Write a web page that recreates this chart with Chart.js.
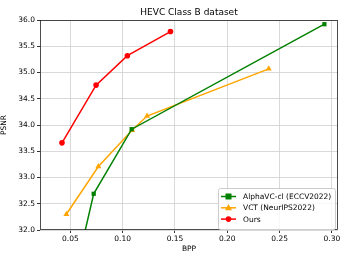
<!DOCTYPE html>
<html><head><meta charset="utf-8">
<script src="https://cdn.jsdelivr.net/npm/chart.js@4/dist/chart.umd.min.js"></script>
<style>html,body{margin:0;padding:0;background:#fff}#wrap{width:349px;height:262px}</style>
</head><body><div id="wrap"><canvas id="c" width="349" height="262"></canvas></div>
<script>
const titleText = "HEVC Class B dataset";
const xTicks = [0.05, 0.10, 0.15, 0.20, 0.25, 0.30];
const yTicks = [32.0, 32.5, 33.0, 33.5, 34.0, 34.5, 35.0, 35.5, 36.0];
const alphaBpp = [0.0585, 0.0723, 0.1086, 0.2928];
const alphaPsnr = [31.5, 32.69, 33.92, 35.92];
const vctBpp = [0.0462, 0.0768, 0.1090, 0.1233, 0.2396];
const vctPsnr = [32.30, 33.21, 33.90, 34.17, 35.07];
const oursBpp = [0.0420, 0.0746, 0.1045, 0.1457];
const oursPsnr = [33.66, 34.76, 35.32, 35.78];
const seriesNames = ["AlphaVC-cl (ECCV2022)", "VCT (NeurIPS2022)", "Ours"];

const FONT = "'DejaVu Sans', sans-serif";
const pts = (xs, ys) => xs.map((x, i) => ({x: x, y: ys[i]}));

const frameAndLegend = {
  id: 'frameAndLegend',
  afterDraw(chart) {
    const ctx = chart.ctx, a = chart.chartArea;
    ctx.save();
    ctx.strokeStyle = '#222'; ctx.lineWidth = 0.8;
    ctx.strokeRect(a.left + 0.5, a.top + 0.5, a.right - a.left - 1, a.bottom - a.top - 1);
    // title
    ctx.fillStyle = '#000'; ctx.font = '9px ' + FONT;
    ctx.textAlign = 'center'; ctx.textBaseline = 'middle';
    ctx.fillText(titleText, (a.left + a.right) / 2, 12.5);
    // legend
    const bx = 218, by = 188, bw = 117, bh = 41;
    ctx.fillStyle = 'rgba(255,255,255,0.8)';
    ctx.strokeStyle = '#cccccc'; ctx.lineWidth = 1;
    ctx.beginPath(); ctx.roundRect(bx + 0.5, by + 0.5, bw, bh, 2); ctx.fill(); ctx.stroke();
    chart.data.datasets.forEach((ds, i) => {
      const y = 196.5 + i * 11.3;
      ctx.strokeStyle = ds.borderColor; ctx.lineWidth = 1.5;
      ctx.beginPath(); ctx.moveTo(221, y); ctx.lineTo(236, y); ctx.stroke();
      ctx.fillStyle = ds.borderColor;
      const r = ds.pointRadius;
      ctx.beginPath();
      if (ds.pointStyle === 'rect') { ctx.rect(228.5 - r, y - r, 2 * r, 2 * r); }
      else if (ds.pointStyle === 'triangle') { ctx.moveTo(228.5, y - r * 1.1); ctx.lineTo(228.5 + r, y + r * 0.7); ctx.lineTo(228.5 - r, y + r * 0.7); ctx.closePath(); }
      else { ctx.arc(228.5, y, r, 0, Math.PI * 2); }
      ctx.fill();
      ctx.fillStyle = '#000'; ctx.font = '7.5px ' + FONT;
      ctx.textAlign = 'left'; ctx.textBaseline = 'middle';
      ctx.fillText(ds.label, 243, y + 0.5);
    });
    ctx.restore();
  }
};

new Chart(document.getElementById('c'), {
  type: 'line',
  data: {
    datasets: [
      {label: seriesNames[0], data: pts(alphaBpp, alphaPsnr), borderColor: '#008000', backgroundColor: '#008000', borderWidth: 1.5, pointStyle: 'rect', pointRadius: 3, pointBorderWidth: 0},
      {label: seriesNames[1], data: pts(vctBpp, vctPsnr), borderColor: '#FFA500', backgroundColor: '#FFA500', borderWidth: 1.5, pointStyle: 'triangle', pointRadius: 3.5, pointBorderWidth: 0},
      {label: seriesNames[2], data: pts(oursBpp, oursPsnr), borderColor: '#FF0000', backgroundColor: '#FF0000', borderWidth: 1.5, pointStyle: 'circle', pointRadius: 2.8, pointBorderWidth: 0}
    ]
  },
  options: {
    responsive: false, animation: false, devicePixelRatio: 1,
    layout: {padding: {top: 20, right: 11, left: 0, bottom: 0}},
    plugins: {legend: {display: false}, title: {display: false}, tooltip: {enabled: false}},
    scales: {
      x: {
        type: 'linear', min: 0.021, max: 0.3058,
        afterBuildTicks: s => { s.ticks = xTicks.map(v => ({value: v})); },
        afterFit: s => { s.height = 32; },
        ticks: {color: '#000', font: {family: FONT, size: 7.5}, padding: 2, maxRotation: 0, callback: v => v.toFixed(2)},
        grid: {color: '#cfcfcf', lineWidth: 0.8, tickLength: 3, tickColor: '#000'},
        border: {display: false},
        title: {display: true, text: 'BPP', color: '#000', font: {family: FONT, size: 7.5}, padding: {top: 0, bottom: 8}}
      },
      y: {
        type: 'linear', min: 32, max: 36,
        afterBuildTicks: s => { s.ticks = yTicks.map(v => ({value: v})); },
        afterFit: s => { s.width = 40; },
        ticks: {color: '#000', font: {family: FONT, size: 7.5}, padding: 2, callback: v => v.toFixed(1)},
        grid: {color: '#cfcfcf', lineWidth: 0.8, tickLength: 3, tickColor: '#000'},
        border: {display: false},
        title: {display: true, text: 'PSNR', color: '#000', font: {family: FONT, size: 7.5}, padding: {top: 0, bottom: 0}}
      }
    }
  },
  plugins: [frameAndLegend]
});
</script></body></html>
